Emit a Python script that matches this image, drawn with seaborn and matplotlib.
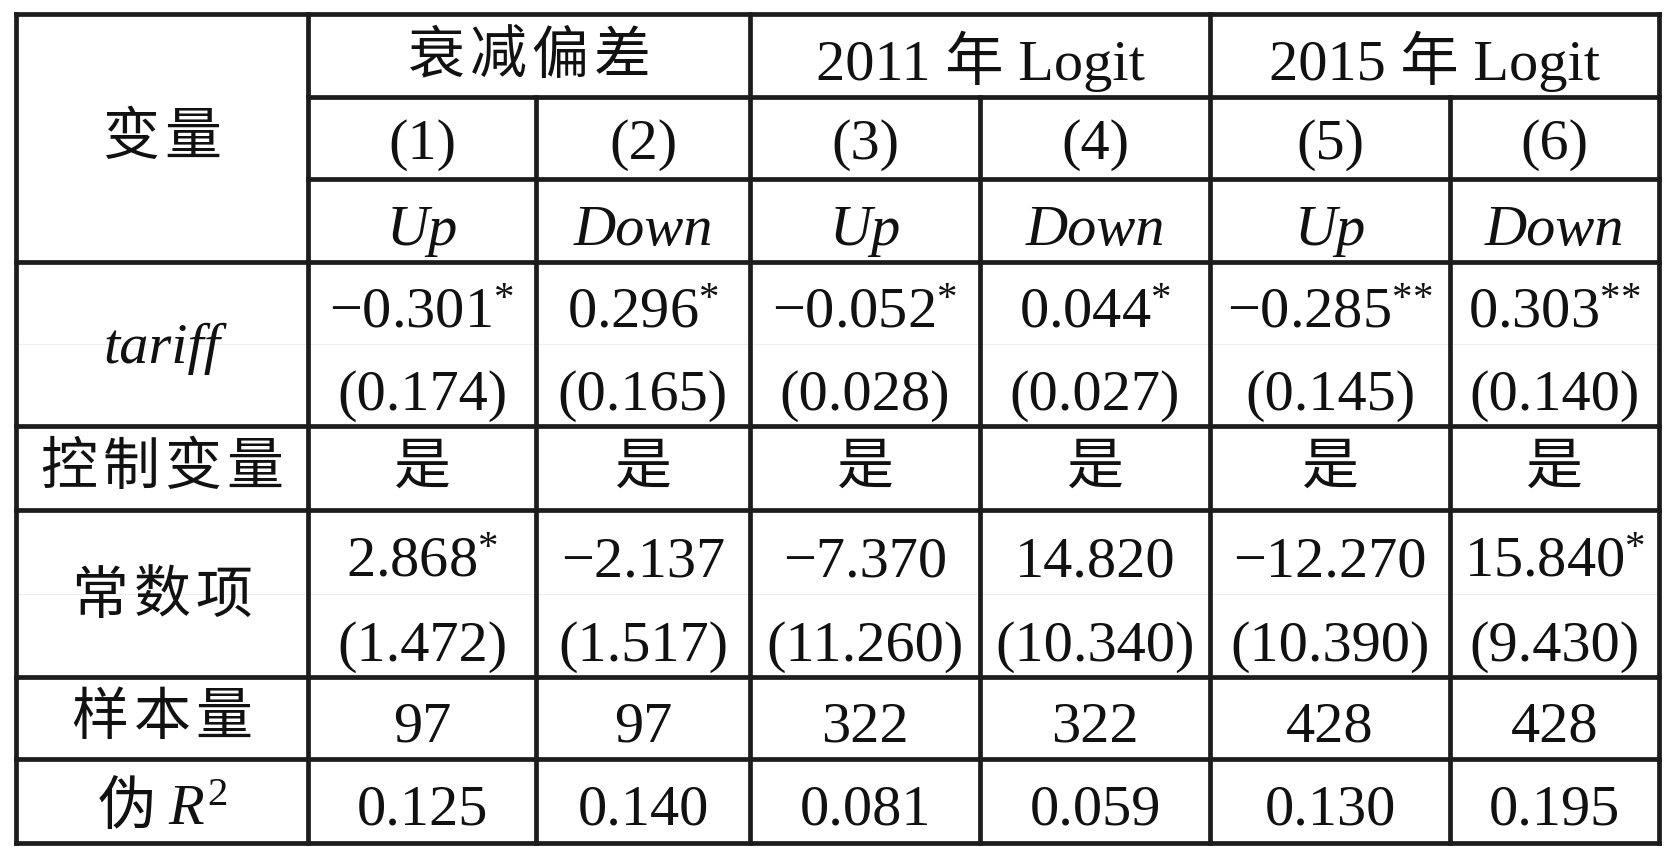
import numpy as np
import matplotlib
matplotlib.use("Agg")
import matplotlib.pyplot as plt
import seaborn as sns

# ---------------- data ----------------
group_labels = ["衰减偏差", "2011 年 Logit", "2015 年 Logit"]
model_numbers = ["(1)", "(2)", "(3)", "(4)", "(5)", "(6)"]
dependent_vars = ["Up", "Down", "Up", "Down", "Up", "Down"]
header_label = "变量"
tariff_label = "tariff"
controls_label = "控制变量"
const_label = "常数项"
nobs_label = "样本量"
r2_label_cn = "伪"

tariff_coef = [-0.301, 0.296, -0.052, 0.044, -0.285, 0.303]
tariff_se = [0.174, 0.165, 0.028, 0.027, 0.145, 0.140]
tariff_stars = ["*", "*", "*", "*", "**", "**"]
controls = ["是", "是", "是", "是", "是", "是"]
const_coef = [2.868, -2.137, -7.370, 14.820, -12.270, 15.840]
const_se = [1.472, 1.517, 11.260, 10.340, 10.390, 9.430]
const_stars = ["*", "", "", "", "", "*"]
n_obs = [97, 97, 322, 322, 428, 428]
pseudo_r2 = [0.125, 0.140, 0.081, 0.059, 0.130, 0.195]

# ---------------- layout (pixels) ----------------
W, H = 1679, 855
x_start, y_start = 16, 14
col_widths = [292, 228, 214, 230, 230, 240, 209]
row_heights = [83, 82, 83, 164, 84, 167, 82, 84]

sns.set_theme(style="white")
plt.rcParams["mathtext.fontset"] = "custom"
plt.rcParams["mathtext.rm"] = "Liberation Serif"
plt.rcParams["mathtext.it"] = "Liberation Serif:italic"
plt.rcParams["font.family"] = ["Liberation Serif", "Noto Sans CJK SC", "DejaVu Sans"]

CJK = ["Noto Sans CJK SC", "DejaVu Sans"]
SERIF = ["Liberation Serif", "Noto Sans CJK SC", "DejaVu Sans"]
FS = 42      # numbers
FS_CJK = 41  # Chinese
CJK_ADV = 62  # per-character advance for spaced Chinese labels (px)
LINE = "#1c1c1c"
LW = 3.4

xe = x_start + np.concatenate([[0], np.cumsum(col_widths)])
ye = y_start + np.concatenate([[0], np.cumsum(row_heights)])

fig = plt.figure(figsize=(W / 100, H / 100), dpi=100)
ax = fig.add_axes([0, 0, 1, 1])
ax.set_xlim(0, W)
ax.set_ylim(H, 0)
ax.axis("off")


def fmt(v):
    s = f"{abs(v):.3f}"
    return ("\u2212" + s) if v < 0 else s


def with_stars(v, st):
    if not st:
        return fmt(v)
    return fmt(v) + "$^{" + "".join("{*}" for _ in st) + "}$"


def cx(i):
    return (xe[i] + xe[i + 1]) / 2


def num_text(x, yc, s, fs=FS, style="normal"):
    # yc: center of the digit ink
    ax.text(x, yc + 0.33 * fs * 100 / 72, s, ha="center", va="baseline",
            fontsize=fs, family=SERIF, style=style, color="#111111")


def cjk_text(x, yc, s, fs=FS_CJK, adv=None):
    if adv is None or len(s) == 1:
        ax.text(x, yc, s, ha="center", va="center", fontsize=fs, family=CJK,
                color="#111111")
        return
    n = len(s)
    for k, ch in enumerate(s):
        ax.text(x + (k - (n - 1) / 2) * adv, yc, ch, ha="center", va="center",
                fontsize=fs, family=CJK, color="#111111")


# ---------------- lines ----------------
def hline(y, x0, x1, color=LINE, lw=LW):
    ax.plot([x0, x1], [y, y], color=color, lw=lw, solid_capstyle="projecting")


def vline(x, y0, y1):
    ax.plot([x, x], [y0, y1], color=LINE, lw=LW, solid_capstyle="projecting")


# faint sub-row separators in two-line cells
for r in (3, 5):
    ymid = ye[r] + row_heights[r] / 2
    hline(ymid, xe[0], xe[-1], color="#eeeeee", lw=0.8)

hline(ye[0], xe[0], xe[-1])
hline(ye[1], xe[1], xe[-1])
hline(ye[2], xe[1], xe[-1])
for r in range(3, len(ye)):
    hline(ye[r], xe[0], xe[-1])
for c in (0, 1, 3, 5, 7):
    vline(xe[c], ye[0], ye[-1])
for c in (2, 4, 6):
    vline(xe[c], ye[1], ye[-1])

# ---------------- header ----------------
cjk_text(cx(0), (ye[0] + ye[3]) / 2, header_label, adv=CJK_ADV)
cjk_text((xe[1] + xe[3]) / 2, (ye[0] + ye[1]) / 2 + 1, group_labels[0], adv=CJK_ADV)
for g in (1, 2):
    a, b = 1 + 2 * g, 3 + 2 * g
    num_text((xe[a] + xe[b]) / 2, (ye[0] + ye[1]) / 2 + 5, group_labels[g])
for j in range(6):
    num_text(cx(j + 1), (ye[1] + ye[2]) / 2 + 2, model_numbers[j])
    num_text(cx(j + 1), (ye[2] + ye[3]) / 2 + 5, dependent_vars[j], style="italic")

# ---------------- body ----------------
r = 3
num_text(cx(0), ye[r] + row_heights[r] / 2, tariff_label, style="italic")
for j in range(6):
    num_text(cx(j + 1), ye[r] + 0.28 * row_heights[r], with_stars(tariff_coef[j], tariff_stars[j]))
    num_text(cx(j + 1), ye[r] + 0.785 * row_heights[r], "(" + fmt(tariff_se[j]) + ")")

r = 4
cjk_text(cx(0), ye[r] + row_heights[r] / 2, controls_label, adv=CJK_ADV)
for j in range(6):
    cjk_text(cx(j + 1), ye[r] + row_heights[r] / 2, controls[j])

r = 5
cjk_text(cx(0), ye[r] + row_heights[r] / 2 + 3, const_label, adv=CJK_ADV)
for j in range(6):
    num_text(cx(j + 1), ye[r] + 0.28 * row_heights[r], with_stars(const_coef[j], const_stars[j]))
    num_text(cx(j + 1), ye[r] + 0.785 * row_heights[r], "(" + fmt(const_se[j]) + ")")

r = 6
cjk_text(cx(0), ye[r] + row_heights[r] / 2, nobs_label, adv=CJK_ADV)
for j in range(6):
    num_text(cx(j + 1), ye[r] + row_heights[r] / 2 + 4, str(n_obs[j]))

r = 7
ax.text(cx(0), ye[r] + row_heights[r] / 2 + 0.33 * FS * 100 / 72 + 4,
        r2_label_cn + r" $\mathit{R}^{2}$", ha="center", va="baseline",
        fontsize=FS, family=CJK, color="#111111")
for j in range(6):
    num_text(cx(j + 1), ye[r] + row_heights[r] / 2 + 4, f"{pseudo_r2[j]:.3f}")

fig.savefig("out.png", dpi=100, facecolor="white")
